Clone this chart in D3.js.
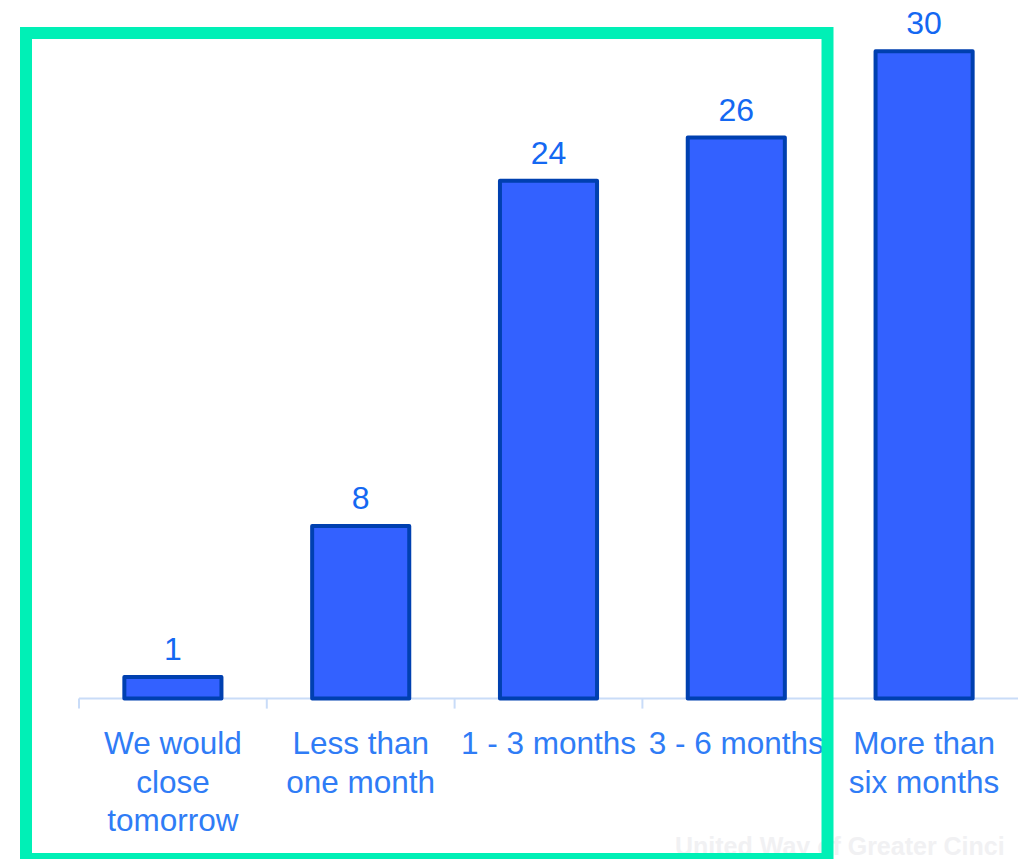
<!DOCTYPE html>
<html>
<head>
<meta charset="utf-8">
<script src="https://cdn.jsdelivr.net/npm/d3@7"></script>
<style>
  html, body { margin: 0; padding: 0; background: #fff; }
  svg { display: block; font-family: 'Liberation Sans', Arial, sans-serif; }
</style>
</head>
<body>
<svg id="chart" width="1025" height="859"></svg>
<script>
// categories and values
const categories = ['close', 'lt1', 'm1to3', 'm3to6', 'gt6']
const tickLabels = [
  ['We would', 'close', 'tomorrow'],
  ['Less than', 'one month'],
  ['1 - 3 months'],
  ['3 - 6 months'],
  ['More than', 'six months']
]
const counts = [1, 8, 24, 26, 30]

const svg = d3.select('#chart')
const axisY = 698.6

const x = d3.scaleBand()
  .domain(categories)
  .range([79, 1018])
  .paddingInner(0.483)
  .paddingOuter(0.2415)

const y = d3.scaleLinear()
  .domain([0, 30])
  .range([axisY, 51.3])

// watermark, sits under the frame (only the visible part of it)
svg.append('text')
  .attr('x', 675)
  .attr('y', 855)
  .attr('font-size', 25)
  .attr('font-weight', 'bold')
  .attr('fill', '#f1f1f3')
  .text('United Way of Greater Cinci')

// axis line and ticks
const axis = d3.axisBottom(x)
  .tickSize(0)
  .tickFormat('')

const axisG = svg.append('g')
  .attr('transform', `translate(0, ${axisY})`)
  .call(axis)
axisG.select('.domain')
  .attr('stroke', '#c9dcf8')
  .attr('stroke-width', 2)
  .attr('d', `M${x.range()[0]},0H${x.range()[1]}`)

const step = x.step()
const bounds = d3.range(categories.length + 1).map(i => x.range()[0] + i * step)
axisG.selectAll('.bound')
  .data(bounds.slice(0, -1))
  .enter()
  .append('line')
  .attr('class', 'bound')
  .attr('x1', d => d)
  .attr('x2', d => d)
  .attr('y1', 0)
  .attr('y2', 10)
  .attr('stroke', '#c9dcf8')
  .attr('stroke-width', 2)

// bars
svg.selectAll('.bar')
  .data(counts)
  .enter()
  .append('rect')
  .attr('class', 'bar')
  .attr('x', (d, i) => x(categories[i]))
  .attr('y', d => y(d))
  .attr('width', x.bandwidth())
  .attr('height', d => axisY - y(d))
  .attr('fill', '#3361ff')
  .attr('stroke', '#0040b0')
  .attr('stroke-width', 4)
  .attr('stroke-linejoin', 'round')

// value labels
svg.selectAll('.value')
  .data(counts)
  .enter()
  .append('text')
  .attr('class', 'value')
  .attr('x', (d, i) => x(categories[i]) + x.bandwidth() / 2)
  .attr('y', d => y(d) - 17)
  .attr('text-anchor', 'middle')
  .attr('font-size', 32)
  .attr('fill', '#1468f2')
  .text(d => d)

// category labels
const labels = svg.selectAll('.cat')
  .data(tickLabels)
  .enter()
  .append('text')
  .attr('class', 'cat')
  .attr('text-anchor', 'middle')
  .attr('font-size', 31.5)
  .attr('fill', '#2f7cf6')
  .attr('transform', (d, i) => `translate(${x(categories[i]) + x.bandwidth() / 2}, 754)`)

labels.selectAll('tspan')
  .data(d => d)
  .enter()
  .append('tspan')
  .attr('x', 0)
  .attr('y', (d, i) => i * 38.5)
  .text(d => d)

// green frame
svg.append('rect')
  .attr('x', 26)
  .attr('y', 33)
  .attr('width', 801.5)
  .attr('height', 826)
  .attr('fill', 'none')
  .attr('stroke', '#00f0b6')
  .attr('stroke-width', 12)
</script>
</body>
</html>
